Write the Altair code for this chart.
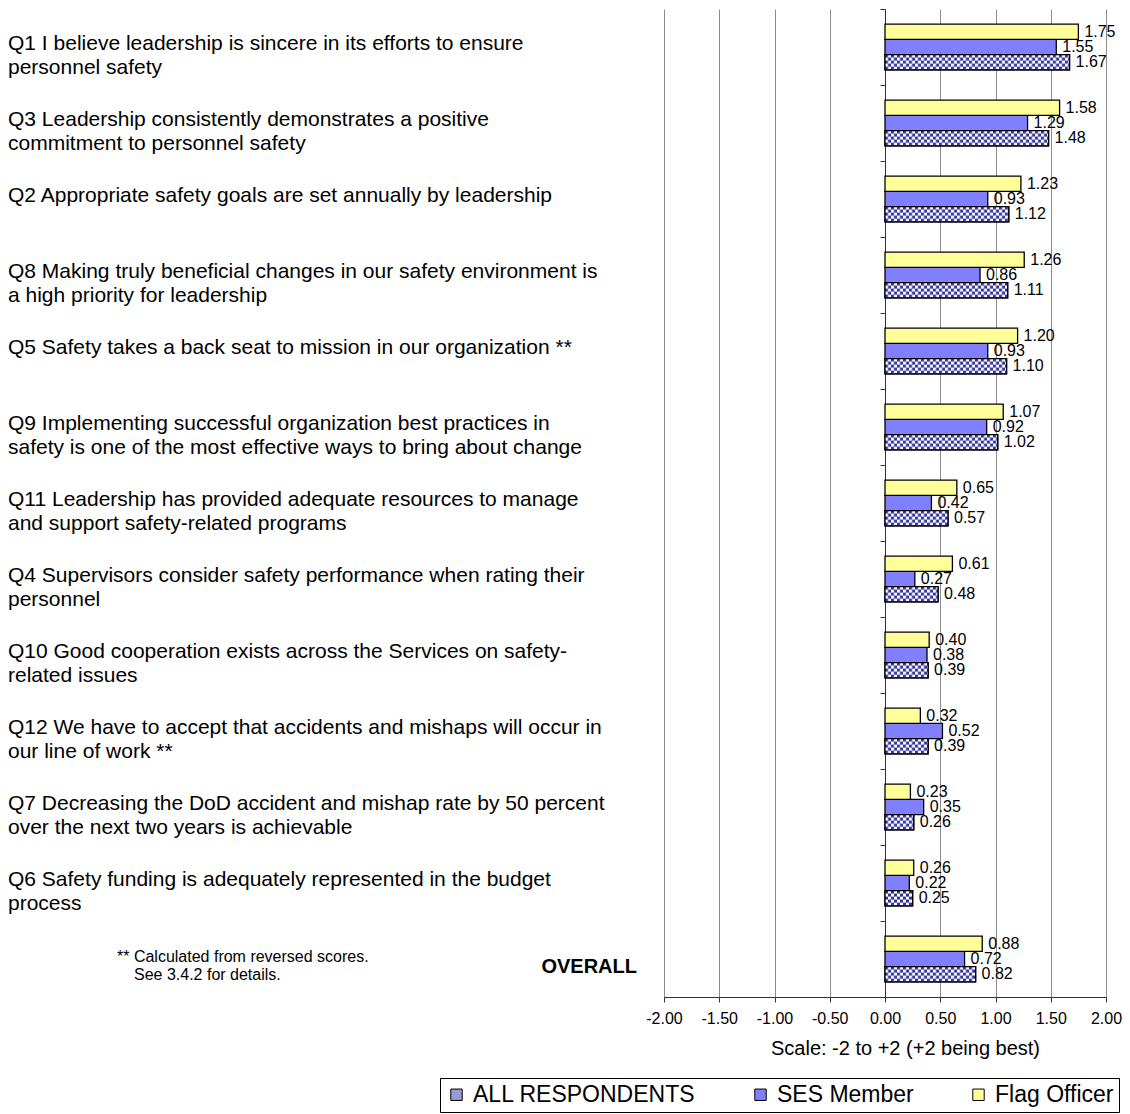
import base64

import altair as alt
import pandas as pd

# Survey items, top to bottom
question_ids = ["Q1", "Q3", "Q2", "Q8", "Q5", "Q9", "Q11", "Q4", "Q10", "Q12", "Q7", "Q6", "OVERALL"]
question_text = [
    "Q1 I believe leadership is sincere in its efforts to ensure\npersonnel safety",
    "Q3 Leadership consistently demonstrates a positive\ncommitment to personnel safety",
    "Q2 Appropriate safety goals are set annually by leadership",
    "Q8 Making truly beneficial changes in our safety environment is\na high priority for leadership",
    "Q5 Safety takes a back seat to mission in our organization **",
    "Q9 Implementing successful organization best practices in\nsafety is one of the most effective ways to bring about change",
    "Q11 Leadership has provided adequate resources to manage\nand support safety-related programs",
    "Q4 Supervisors consider safety performance when rating their\npersonnel",
    "Q10 Good cooperation exists across the Services on safety-\nrelated issues",
    "Q12 We have to accept that accidents and mishaps will occur in\nour line of work **",
    "Q7 Decreasing the DoD accident and mishap rate by 50 percent\nover the next two years is achievable",
    "Q6 Safety funding is adequately represented in the budget\nprocess",
]

# Mean scores per respondent group
all_respondents = [1.67, 1.48, 1.12, 1.11, 1.10, 1.02, 0.57, 0.48, 0.39, 0.39, 0.26, 0.25, 0.82]
ses_member = [1.55, 1.29, 0.93, 0.86, 0.93, 0.92, 0.42, 0.27, 0.38, 0.52, 0.35, 0.22, 0.72]
flag_officer = [1.75, 1.58, 1.23, 1.26, 1.20, 1.07, 0.65, 0.61, 0.40, 0.32, 0.23, 0.26, 0.88]

groups = ["ALL RESPONDENTS", "SES Member", "Flag Officer"]
group_colors = ["#9a9ad2", "#8080ff", "#ffff99"]
bar_order = ["Flag Officer", "SES Member", "ALL RESPONDENTS"]
x_ticks = [-2.0, -1.5, -1.0, -0.5, 0.0, 0.5, 1.0, 1.5, 2.0]

overall_label = ["OVERALL"]
footnote_first = ["** Calculated from reversed scores."]
footnote_second = ["See 3.4.2 for details."]

rows = []
for i, qid in enumerate(question_ids):
    for g, vals in zip(groups, [all_respondents, ses_member, flag_officer]):
        rows.append({"id": qid, "group": g, "value": vals[i]})
scores = pd.DataFrame(rows)
labels = pd.DataFrame({"id": question_ids[:-1], "text": question_text})
overall_df = pd.DataFrame({"id": ["OVERALL"], "text": overall_label})
foot1_df = pd.DataFrame({"id": ["OVERALL"], "text": footnote_first})
foot2_df = pd.DataFrame({"id": ["OVERALL"], "text": footnote_second})

# Small checkerboard fill for the "all respondents" bars
checker_svg = (
    "<svg xmlns='http://www.w3.org/2000/svg' width='100%' height='100%'>"
    "<defs><pattern id='c' width='6' height='6' patternUnits='userSpaceOnUse'>"
    "<rect width='6' height='6' fill='#ffffff'/>"
    "<rect width='3' height='3' fill='#333399'/>"
    "<rect x='3' y='3' width='3' height='3' fill='#333399'/>"
    "</pattern></defs>"
    "<rect width='100%' height='100%' fill='url(#c)'/></svg>"
)
checker_url = "data:image/svg+xml;base64," + base64.b64encode(checker_svg.encode()).decode()

FONT = "Liberation Sans"

y_enc = alt.Y(
    "id:N",
    sort=question_ids,
    title=None,
    scale=alt.Scale(domain=question_ids, paddingInner=0, paddingOuter=0),
    axis=alt.Axis(
        orient="left", offset=-221, labels=False, ticks=True, tickBand="extent",
        tickSize=5, tickColor="#333333", domain=True, domainColor="#333333",
        domainWidth=1, grid=False, title=None,
    ),
)
yoff_enc = alt.YOffset(
    "group:N", sort=bar_order,
    scale=alt.Scale(domain=bar_order, paddingInner=0, paddingOuter=1),
)
x_enc = alt.X(
    "value:Q",
    scale=alt.Scale(domain=[-2, 2], nice=False, zero=False),
    axis=alt.Axis(
        values=x_ticks, format=".2f",
        labelExpr="replace(datum.label, '\u2212', '-')",
        labelOverlap=False, labelFlush=False,
        grid=True, gridColor="#8c8c8c", gridWidth=1,
        domain=True, domainColor="#333333", tickColor="#333333", tickSize=5,
        labelFontSize=16, labelColor="black", labelPadding=8,
        title="Scale: -2 to +2 (+2 being best)", titleFontSize=20,
        titleFontWeight="normal", titleColor="black", titlePadding=12, titleX=241,
    ),
)

bars = alt.Chart(scores).mark_bar(stroke="black", strokeWidth=1.3).encode(
    x=x_enc,
    y=y_enc,
    yOffset=yoff_enc,
    fill=alt.Fill(
        "group:N",
        scale=alt.Scale(domain=groups, range=group_colors),
        legend=alt.Legend(
            orient="none", legendX=-224, legendY=1069, direction="horizontal",
            title=None, symbolType="square", symbolSize=130,
            symbolStrokeColor="black", symbolStrokeWidth=1,
            labelFontSize=23, labelColor="black", labelOffset=5, labelLimit=0,
            columnPadding=53, padding=5, strokeColor="black", fillColor="white",
        ),
    ),
)

pattern = (
    alt.Chart(scores)
    .transform_filter(alt.datum.group == "ALL RESPONDENTS")
    .mark_image(aspect=False)
    .encode(x=x_enc, x2=alt.datum(0), y=y_enc, yOffset=yoff_enc, url=alt.value(checker_url))
)

outline = (
    alt.Chart(scores)
    .transform_filter(alt.datum.group == "ALL RESPONDENTS")
    .mark_bar(fillOpacity=0, stroke="black", strokeWidth=1.3)
    .encode(x=x_enc, y=y_enc, yOffset=yoff_enc)
)

values = alt.Chart(scores).mark_text(
    align="left", baseline="middle", dx=6, fontSize=16, color="black"
).encode(
    x=x_enc, y=y_enc, yOffset=yoff_enc,
    text=alt.Text("value:Q", format=".2f"),
)

qlabels = alt.Chart(labels).mark_text(
    align="left", baseline="top", dy=-14, lineBreak="\n", lineHeight=24,
    fontSize=21, color="black",
).encode(x=alt.value(-656), y=y_enc, text="text:N")

overall = alt.Chart(overall_df).mark_text(
    align="right", baseline="middle", dy=8, fontSize=20, fontWeight="bold", color="black"
).encode(x=alt.value(-27), y=y_enc, text="text:N")

foot1 = alt.Chart(foot1_df).mark_text(
    align="left", baseline="middle", dy=-2, fontSize=16, color="black"
).encode(x=alt.value(-547), y=y_enc, text="text:N")

foot2 = alt.Chart(foot2_df).mark_text(
    align="left", baseline="middle", dy=16, fontSize=16, color="black"
).encode(x=alt.value(-530), y=y_enc, text="text:N")

chart = (
    alt.layer(bars, pattern, outline, values, qlabels, overall, foot1, foot2)
    .properties(
        width=442,
        height=988,
        autosize=alt.AutoSizeParams(type="none"),
        padding={"left": 664, "top": 9, "right": 24, "bottom": 117},
    )
    .configure(font=FONT)
    .configure_view(stroke=None)
)

chart.save("out.html", embed_options={"renderer": "svg", "actions": False})
